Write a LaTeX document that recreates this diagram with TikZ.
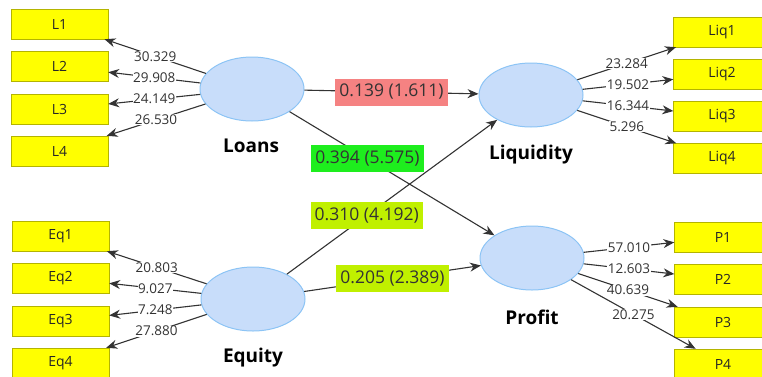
\documentclass[tikz,border=0pt]{standalone}
\usepackage{fontspec}
\setmainfont{Open Sans}
\usetikzlibrary{shapes.geometric,arrows.meta}
\definecolor{latentfill}{RGB}{200,221,250}
\definecolor{latentline}{RGB}{140,196,245}
\definecolor{itemfill}{RGB}{255,255,0}
\definecolor{itemline}{RGB}{180,180,0}
\definecolor{weakpath}{RGB}{245,130,130}
\definecolor{strongpath}{RGB}{30,238,30}
\definecolor{midpath}{RGB}{192,240,0}

\begin{document}
\begin{tikzpicture}
[x = 1pt, y = -1pt,
 latent/.style = {ellipse, draw = latentline, fill = latentfill, line width = 1pt, minimum width = 104pt, minimum height = 64pt, inner sep = 0pt},
 lname/.style = {font = \fontsize{19}{22}\selectfont\bfseries},
 item/.style = {draw = itemline, fill = itemfill, minimum width = 97pt, minimum height = 30pt, font = \fontsize{14}{16}\selectfont, text = black!85},
 link/.style = {draw = black!80, line width = 1.1pt, -{Stealth[length = 11pt, width = 9pt]}},
 load/.style = {fill = white, inner sep = 0.5pt, font = \fontsize{13.5}{15}\selectfont, text = black!80},
 coef/.style = {inner sep = 4pt, minimum height = 27pt, font = \fontsize{17.5}{20}\selectfont, text = black!80}
 ]
\useasboundingbox (0,0) rectangle (762,376);
% constructs
\node [latent] (loans) at (252,89) {};
\node [latent] (liquidity) at (531,95) {};
\node [latent] (equity) at (253,299) {};
\node [latent] (profit) at (532,258) {};
\node [lname] (loanslabel) at (251,146) {Loans};
\node [lname] (liquiditylabel) at (531,155) {Liquidity};
\node [lname] (equitylabel) at (253,358) {Equity};
\node [lname] (profitlabel) at (532,317) {Profit};
% indicators
\node [item] (l1) at (59.5,24) {L1};
\node [item] (l2) at (59.5,66.5) {L2};
\node [item] (l3) at (59.5,109) {L3};
\node [item] (l4) at (59.5,151) {L4};
\node [item] (eq1) at (60.5,236) {Eq1};
\node [item] (eq2) at (60.5,278) {Eq2};
\node [item] (eq3) at (60.5,321) {Eq3};
\node [item] (eq4) at (60.5,363) {Eq4};
\node [item] (liq1) at (722,32) {Liq1};
\node [item] (liq2) at (722,74) {Liq2};
\node [item] (liq3) at (722,116.5) {Liq3};
\node [item] (liq4) at (722,158.5) {Liq4};
\node [item] (p1) at (723,237) {P1};
\node [item] (p2) at (723,279.5) {P2};
\node [item] (p3) at (723,322) {P3};
\node [item] (p4) at (723,364) {P4};
% loadings
\draw [link] (loans) -- node [load] {30.329} (l1);
\draw [link] (loans) -- node [load] {29.908} (l2);
\draw [link] (loans) -- node [load] {24.149} (l3);
\draw [link] (loans) -- node [load] {26.530} (l4);
\draw [link] (equity) -- node [load] {20.803} (eq1);
\draw [link] (equity) -- node [load] {9.027} (eq2);
\draw [link] (equity) -- node [load] {7.248} (eq3);
\draw [link] (equity) -- node [load] {27.880} (eq4);
\draw [link] (liquidity) -- node [load] {23.284} (liq1);
\draw [link] (liquidity) -- node [load] {19.502} (liq2);
\draw [link] (liquidity) -- node [load] {16.344} (liq3);
\draw [link] (liquidity) -- node [load] {5.296} (liq4);
\draw [link] (profit) -- node [load] {57.010} (p1);
\draw [link] (profit) -- node [load] {12.603} (p2);
\draw [link] (profit) -- node [load] {40.639} (p3);
\draw [link] (profit) -- node [load] {20.275} (p4);
% paths
\draw [link] (loans) -- node [coef, fill = weakpath] {0.139 (1.611)} (liquidity);
\draw [link] (loans) -- node [coef, fill = strongpath, pos = 0.38] {0.394 (5.575)} (profit);
\draw [link] (equity) -- node [coef, fill = midpath, pos = 0.38] {0.310 (4.192)} (liquidity);
\draw [link] (equity) -- node [coef, fill = midpath] {0.205 (2.389)} (profit);
\end{tikzpicture}
\end{document}
